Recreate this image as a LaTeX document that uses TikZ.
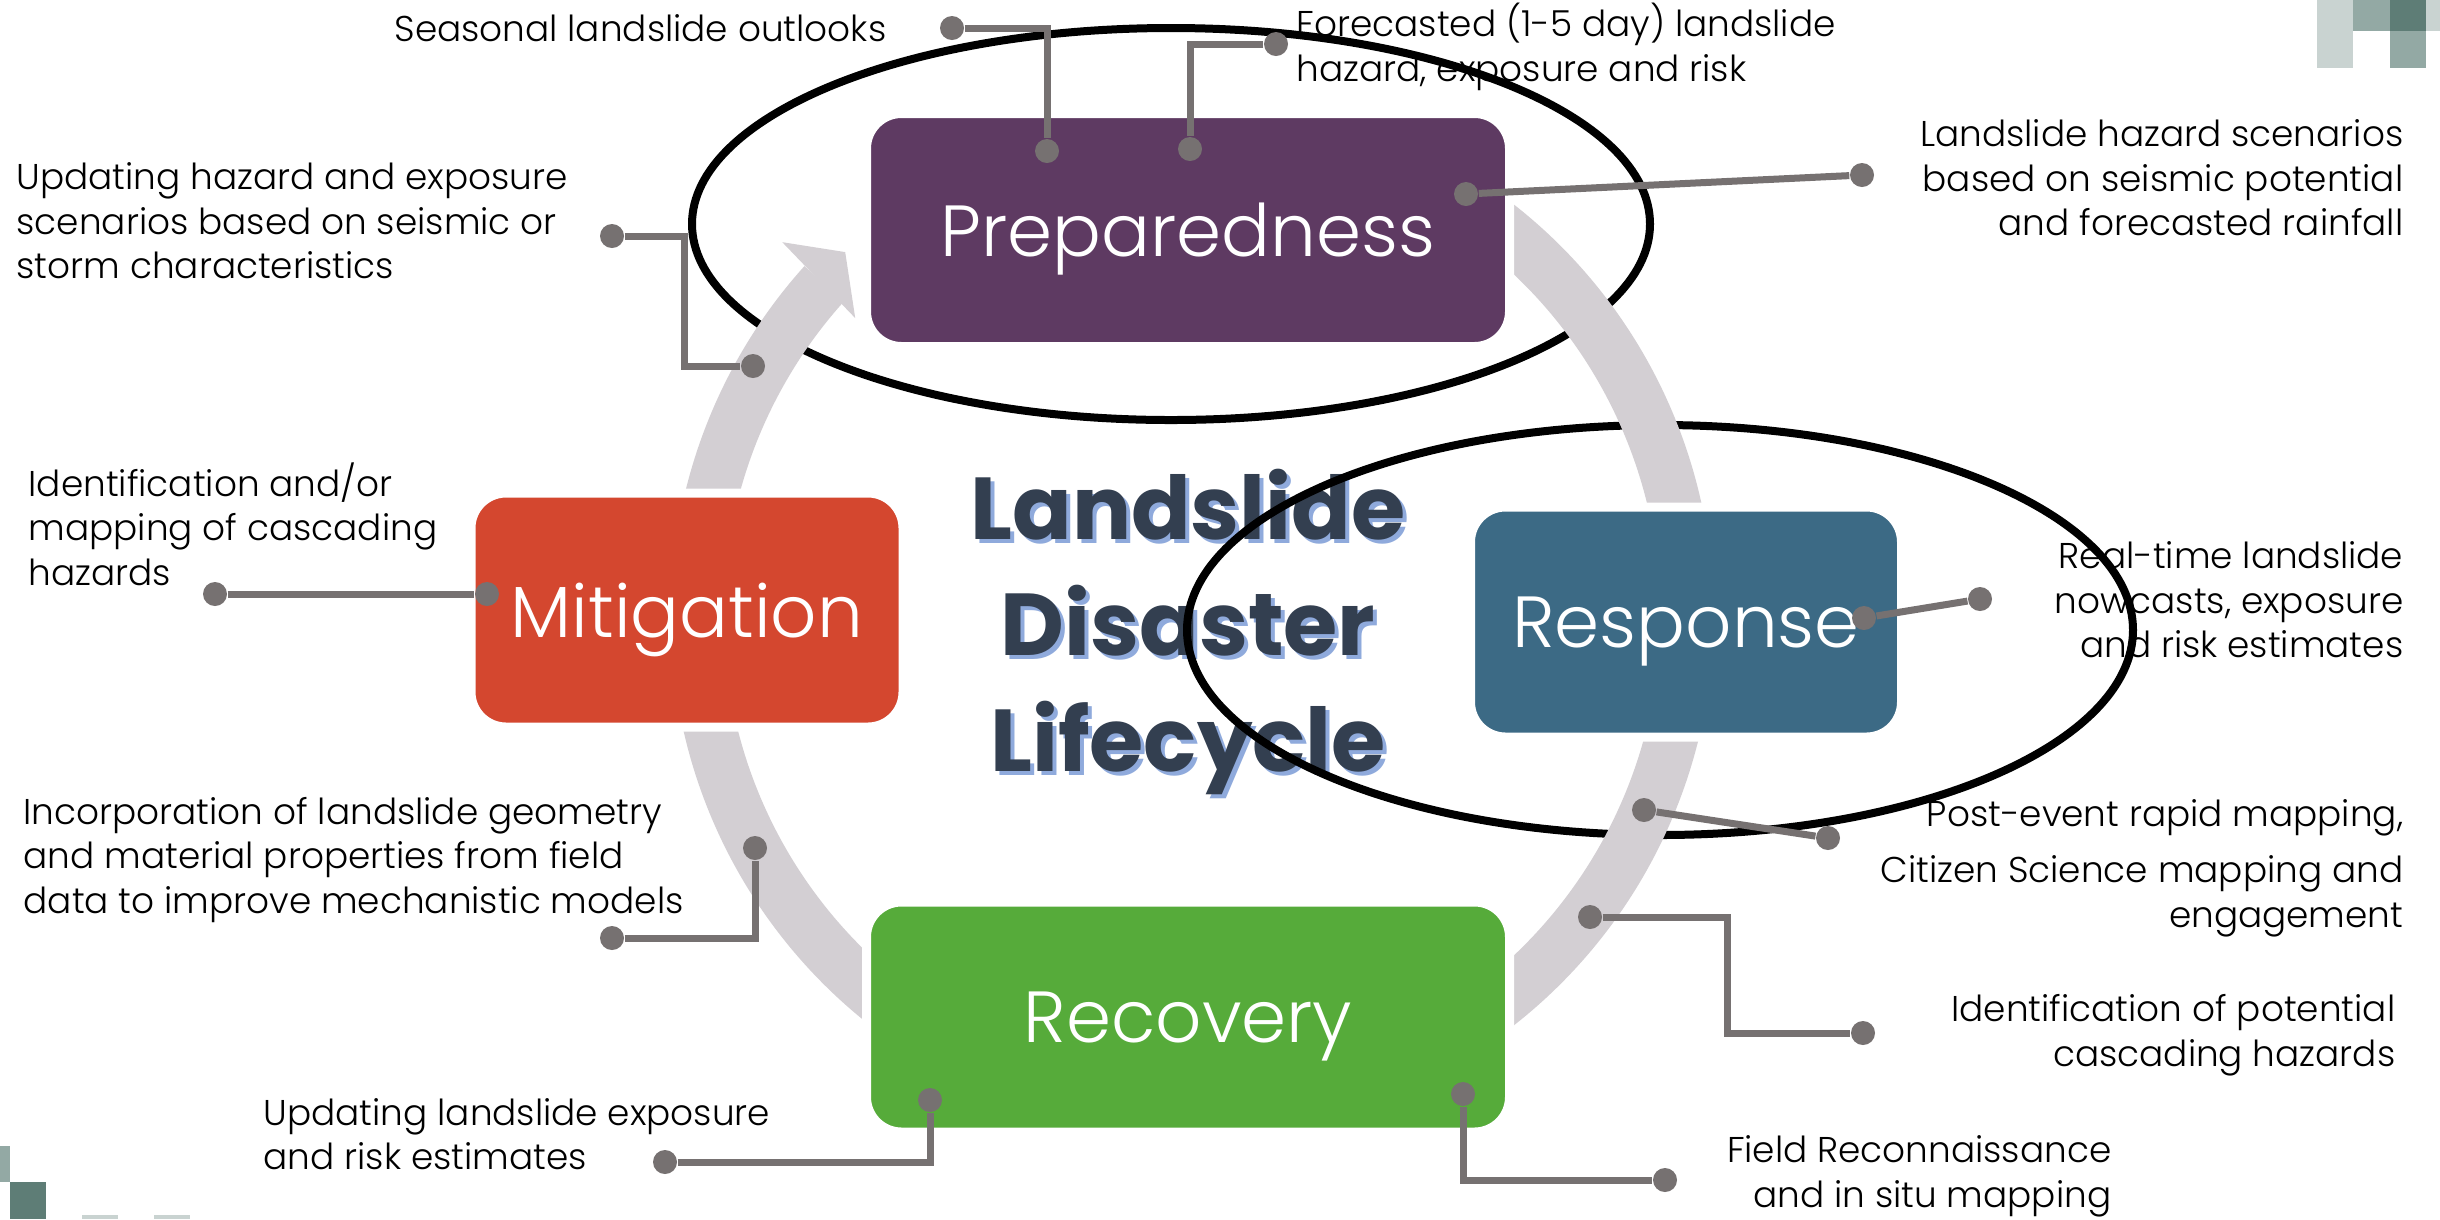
\documentclass[tikz,border=0pt]{standalone}
\usepackage{fontspec}
\setmainfont{Poppins}
\IfFontExistsTF{Poppins Light}{\newfontfamily\thinfont{Poppins Light}}{\newfontfamily\thinfont{Poppins}}
\usetikzlibrary{calc}

\definecolor{prepcol}{HTML}{5E3A62}
\definecolor{mitcol}{HTML}{D4472F}
\definecolor{respcol}{HTML}{3C6A85}
\definecolor{reccol}{HTML}{56AB3A}
\definecolor{ringcol}{HTML}{D3CFD3}
\definecolor{linkcol}{HTML}{767171}
\definecolor{titlecol}{HTML}{333F50}
\definecolor{glowcol}{HTML}{8FAADC}
\definecolor{tilelight}{HTML}{C9D3D1}
\definecolor{tilemid}{HTML}{93A9A4}
\definecolor{tiledark}{HTML}{5E7D76}

\begin{document}
\begin{tikzpicture}[x=0.1mm,y=-0.1mm,
  phasebox/.style={rectangle,rounded corners=3.5mm,draw=white,line width=0.9mm,text=white,inner sep=0pt,text depth=0pt,font=\thinfont\fontsize{20.6}{25}\selectfont},
  note/.style={inner sep=0pt,font=\thinfont\fontsize{10.2}{12.7}\selectfont},
  linkdot/.style={circle,fill=linkcol,inner sep=0pt,minimum size=2.4mm},
  linkline/.style={draw=linkcol,line width=0.7mm},
  halo/.style={draw=black,line width=0.8mm},
  ringband/.style={draw=ringcol,line width=5.3mm},
  heading/.style={align=center,font=\bfseries\fontsize{25}{33}\selectfont}]

\useasboundingbox (0,0) rectangle (2440,1219);
\fill[white] (0,0) rectangle (2440,1219);

% corner tiles
\fill[tilelight] (2317,0) rectangle (2353,68);
\fill[tilemid] (2353,0) rectangle (2390,31);
\fill[tiledark] (2390,0) rectangle (2426,31);
\fill[tilemid] (2390,31) rectangle (2426,68);
\fill[tilelight] (2426,0) rectangle (2440,31);
\fill[tilemid] (0,1146) rectangle (10,1182);
\fill[tiledark] (10,1182) rectangle (46,1219);
\fill[tilelight] (82,1215) rectangle (118,1219);
\fill[tilelight] (154,1215) rectangle (190,1219);

% title
\node[heading,text=glowcol] (title glow) at (1192,636) {Landslide\\Disaster\\Lifecycle};
\node[heading,text=titlecol] (title) at (1188,632) {Landslide\\Disaster\\Lifecycle};

% label texts
\node[note,anchor=east,align=right] (seasonal) at (887,28) {Seasonal landslide outlooks};
\node[note,anchor=west,align=left] (forecast) at (1296,47) {Forecasted (1-5 day) landslide\\hazard, exposure and risk};
\node[note,anchor=east,align=right] (scenarios) at (2404,178) {Landslide hazard scenarios\\based on seismic potential\\and forecasted rainfall};
\node[note,anchor=west,align=left] (updating hazard) at (16,221) {Updating hazard and exposure\\scenarios based on seismic or\\storm characteristics};
\node[note,anchor=west,align=left] (mapping) at (28,524) {Identification and/or\\mapping of cascading\\hazards};
\node[note,anchor=west,align=left] (geometry) at (23,860) {Incorporation of landslide geometry\\and material properties from field\\data to improve mechanistic models};
\node[note,anchor=west,align=left] (updating exposure) at (263,1134) {Updating landslide exposure\\and risk estimates};
\node[note,anchor=east,align=right] (field) at (2112,1176) {Field Reconnaissance\\and in situ mapping};
\node[note,anchor=east,align=right] (cascading) at (2396,1035) {Identification of potential\\cascading hazards};
\node[note,anchor=east,align=right] (post event) at (2404,868) {Post-event rapid mapping,\\[1.2mm]Citizen Science mapping and\\engagement};
\node[note,anchor=east,align=right] (nowcasts) at (2404,600) {Real-time landslide\\nowcasts, exposure\\and risk estimates};

% outlines round preparedness and response
\draw[halo] (1171,224) ellipse [x radius=479, y radius=196];
\draw[halo] (1660,630) ellipse [x radius=473, y radius=205];

% cycle ring
\coordinate (ring centre) at (1192,615);
\draw[ringband] (ring centre) ++(292:495) arc[start angle=292, end angle=432, radius=495];
\draw[ringband] (ring centre) ++(108:495) arc[start angle=108, end angle=222, radius=495];
\fill[ringcol] ($(ring centre)+(222.3:554)$) -- ($(ring centre)+(226.3:502)$) -- ($(ring centre)+(221.4:449)$) -- cycle;

% phase nodes
\node[phasebox,fill=prepcol,minimum width=64.3mm,minimum height=23.3mm] (preparedness) at (1188,230) {Preparedness};
\node[phasebox,fill=mitcol,minimum width=43.2mm,minimum height=23.4mm] (mitigation) at (687,610) {Mitigation};
\node[phasebox,fill=respcol,minimum width=43.1mm,minimum height=23.0mm] (response) at (1686,622) {Response};
\node[phasebox,fill=reccol,minimum width=64.3mm,minimum height=23.0mm] (recovery) at (1188,1017) {Recovery};

% preparedness links
\node[linkdot] (seasonal a) at (952,28) {};
\node[linkdot] (seasonal b) at (1047,151) {};
\draw[linkline] (seasonal a) -| (seasonal b);

\node[linkdot] (forecast a) at (1276,44) {};
\node[linkdot] (forecast b) at (1190,149) {};
\draw[linkline] (forecast a) -| (forecast b);

\node[linkdot] (scenarios a) at (1862,175) {};
\node[linkdot] (scenarios b) at (1466,194) {};
\draw[linkline] (scenarios a) -- (scenarios b);

\node[linkdot] (updating hazard a) at (612,236) {};
\node[linkdot] (updating hazard b) at (753,366) {};
\coordinate (updating hazard bend) at (684,236);
\draw[linkline] (updating hazard a) -- (updating hazard bend) |- (updating hazard b);

% mitigation links
\node[linkdot] (mapping a) at (215,594) {};
\node[linkdot] (mapping b) at (487,594) {};
\draw[linkline] (mapping a) -- (mapping b);

\node[linkdot] (geometry a) at (612,938) {};
\node[linkdot] (geometry b) at (755,848) {};
\draw[linkline] (geometry a) -| (geometry b);

% recovery links
\node[linkdot] (updating exposure a) at (665,1162) {};
\node[linkdot] (updating exposure b) at (930,1100) {};
\draw[linkline] (updating exposure a) -| (updating exposure b);

\node[linkdot] (field a) at (1463,1094) {};
\node[linkdot] (field b) at (1665,1180) {};
\draw[linkline] (field a) |- (field b);

% response links
\node[linkdot] (cascading a) at (1590,917) {};
\node[linkdot] (cascading b) at (1863,1033) {};
\coordinate (cascading bend) at (1727,917);
\draw[linkline] (cascading a) -- (cascading bend) |- (cascading b);

\node[linkdot] (post event a) at (1644,810) {};
\node[linkdot] (post event b) at (1828,838) {};
\draw[linkline] (post event a) -- (post event b);

\node[linkdot] (nowcasts a) at (1864,618) {};
\node[linkdot] (nowcasts b) at (1980,599) {};
\draw[linkline] (nowcasts a) -- (nowcasts b);

\end{tikzpicture}
\end{document}
